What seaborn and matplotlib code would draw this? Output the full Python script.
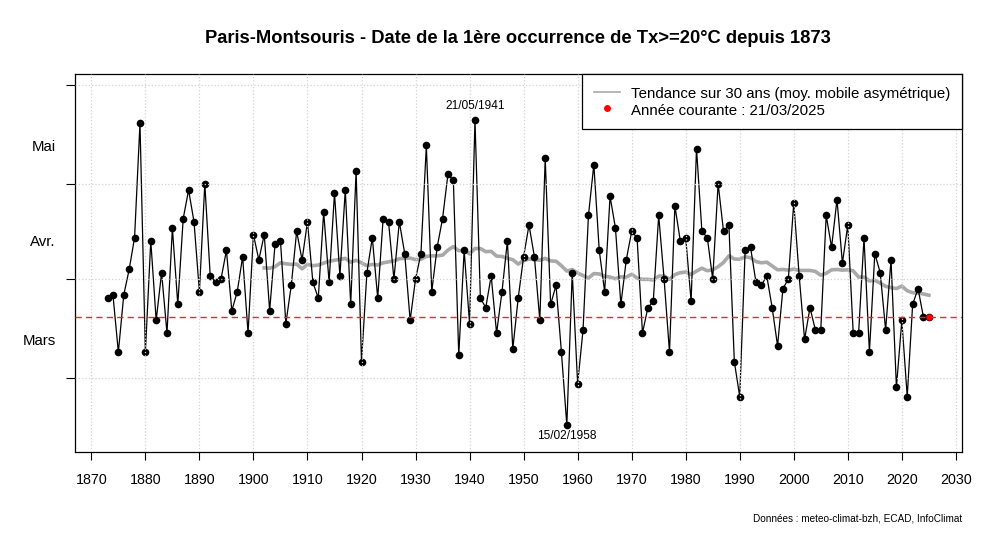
import matplotlib
matplotlib.use("Agg")
import matplotlib.pyplot as plt
from matplotlib.lines import Line2D
import seaborn as sns

# Jour de l'annee (1 = 1er janvier) de la 1ere Tx >= 20 C a Paris-Montsouris
years = list(range(1873, 2026))
first_day = [
    85, 86, 68, 86, 94, 104, 140,                      # 1873-1879
    68, 103, 78, 93, 74, 107, 83, 110, 119, 109,       # 1880
    87, 121, 92, 90, 91, 100, 81, 87, 98, 74,          # 1890
    105, 97, 105, 81, 102, 103, 77, 89, 106, 97,       # 1900
    109, 90, 85, 112, 90, 118, 92, 119, 83, 125,       # 1910
    65, 93, 104, 85, 110, 109, 91, 109, 99, 78,        # 1920
    91, 99, 133, 87, 101, 110, 124, 122, 67, 100,      # 1930
    77, 141, 85, 82, 92, 74, 87, 103, 69, 85,          # 1940
    98, 108, 98, 78, 129, 83, 89, 68, 45, 93,          # 1950
    58, 75, 111, 127, 100, 87, 117, 107, 83, 97,       # 1960
    106, 104, 74, 82, 84, 111, 91, 68, 114, 103,       # 1970
    104, 84, 132, 106, 104, 91, 121, 106, 108, 65,     # 1980
    54, 100, 101, 90, 89, 92, 82, 70, 88, 91,          # 1990
    115, 92, 72, 82, 75, 75, 111, 101, 116, 96,        # 2000
    108, 74, 74, 104, 68, 99, 93, 75, 97, 57,          # 2010
    78, 54, 83, 88, 79, 79,                            # 2020-2025
]

# Tendance sur 30 ans (moyenne mobile asymetrique)
trend_years = list(range(1902, 2026))
trend = [
    94.5, 94.4, 94.9, 96.1, 95.8, 95.6, 95.7, 94.2,
    95.6, 95.2, 95.4, 96.0, 96.6, 96.9, 97.2, 97.5, 96.3, 96.9,
    96.1, 95.2, 95.6, 95.4, 96.1, 96.4, 96.7, 97.4, 97.5, 97.6,
    97.1, 97.2, 98.1, 98.3, 98.3, 98.5, 100.1, 101.2, 99.9, 100.0,
    98.9, 100.6, 100.6, 99.6, 99.7, 98.2, 98.1, 97.5, 97.1, 95.7,
    96.8, 97.3, 97.1, 96.9, 97.5, 96.7, 96.6, 95.2, 93.5, 94.0,
    92.9, 92.1, 91.3, 92.7, 92.6, 91.9, 91.6, 91.1, 91.7, 91.6,
    92.5, 91.3, 90.9, 90.9, 90.7, 91.9, 92.0, 90.9, 92.4, 93.0,
    93.2, 92.4, 93.5, 94.4, 93.6, 93.9, 94.9, 96.2, 98.3, 97.3,
    97.2, 98.0, 97.7, 96.5, 96.1, 96.3, 95.1, 93.9, 94.0, 93.8,
    94.1, 93.7, 93.7, 93.7, 93.4, 92.2, 92.8, 93.9, 94.0, 93.8,
    93.9, 93.6, 91.6, 91.6, 90.4, 90.6, 89.7, 88.7, 88.3, 88.0,
    88.8, 87.3, 86.7, 86.6, 86.3, 85.9,
]

current_year = 2025
current_day = 79
current_label = "21/03/2025"
max_year, max_day, max_label = 1941, 141, "21/05/1941"
min_year, min_day, min_label = 1958, 45, "15/02/1958"

month_ticks = [60, 91, 121, 152]
month_label_pos = [72, 103, 133]
month_labels = ["Mars", "Avr.", "Mai"]
year_ticks = list(range(1870, 2031, 10))

plt.rcParams["font.family"] = ["Liberation Sans", "DejaVu Sans"]

fig = plt.figure(figsize=(10, 5.45), dpi=100)
ax = fig.add_axes([0.0747, 0.1701, 0.887, 0.6936])

# serie annuelle
sns.lineplot(x=years, y=first_day, ax=ax, color="black", linewidth=0.9,
             marker="o", markersize=5.5, markeredgewidth=0, markeredgecolor="black",
             estimator=None, sort=False, zorder=2)

# tendance
sns.lineplot(x=trend_years, y=trend, ax=ax, color="darkgray", linewidth=2.6,
             estimator=None, sort=False, zorder=1.5)

# annee courante
ax.axhline(current_day, color="#ff2020", linestyle=(0, (4.5, 3)), linewidth=1.0, zorder=2.6)
sns.scatterplot(x=[current_year], y=[current_day], ax=ax, color="red", s=22,
                linewidth=0, zorder=3)

ax.annotate(max_label, (max_year, max_day), xytext=(0, 10), textcoords="offset points",
            ha="center", va="center", fontsize=8.6)
ax.annotate(min_label, (min_year, min_day), xytext=(0, -8), textcoords="offset points",
            ha="center", va="center", fontsize=8.6)

ax.set_xlim(1866.92, 2031.08)
ax.set_ylim(36.5, 155.4)

ax.set_xticks(year_ticks)
ax.set_xticklabels([str(y) for y in year_ticks])
ax.set_yticks(month_ticks)
ax.set_yticklabels([""] * len(month_ticks))
ax.set_yticks(month_label_pos, minor=True)
ax.set_yticklabels(month_labels, minor=True)
ax.tick_params(axis="x", which="major", length=6, width=0.8, labelsize=10.3, pad=9)
ax.tick_params(axis="y", which="major", length=6.8, width=0.8)
ax.tick_params(axis="y", which="minor", length=0, labelsize=10.8, pad=13.5)

ax.grid(True, which="major", color="lightgray", linestyle=":", linewidth=0.9)
ax.set_axisbelow(False)
ax.set_xlabel("")
ax.set_ylabel("")
for s in ax.spines.values():
    s.set_linewidth(0.9)
    s.set_color("black")

handles = [
    Line2D([0], [0], color="darkgray", linewidth=1.2),
    Line2D([0], [0], color="red", marker="o", linestyle="none", markersize=5,
           markeredgewidth=0),
]
labels = ["Tendance sur 30 ans (moy. mobile asymétrique)",
          "Année courante : " + current_label]
leg = ax.legend(handles, labels, loc="upper right", borderaxespad=0, fontsize=10.8,
                frameon=True, fancybox=False, framealpha=1, edgecolor="black",
                borderpad=0.75, labelspacing=0.05, handleheight=1.2,
                handlelength=1.75, handletextpad=0.75)
leg.get_frame().set_linewidth(0.9)
leg.set_zorder(5)

fig.text(0.518, 0.930, "Paris-Montsouris - Date de la 1ère occurrence de Tx>=20°C depuis 1873",
         ha="center", va="center", fontsize=13.2, fontweight="bold")
fig.text(0.962, 0.0495, "Données : meteo-climat-bzh, ECAD, InfoClimat",
         ha="right", va="center", fontsize=7.2)

fig.savefig("out.png", dpi=100)
